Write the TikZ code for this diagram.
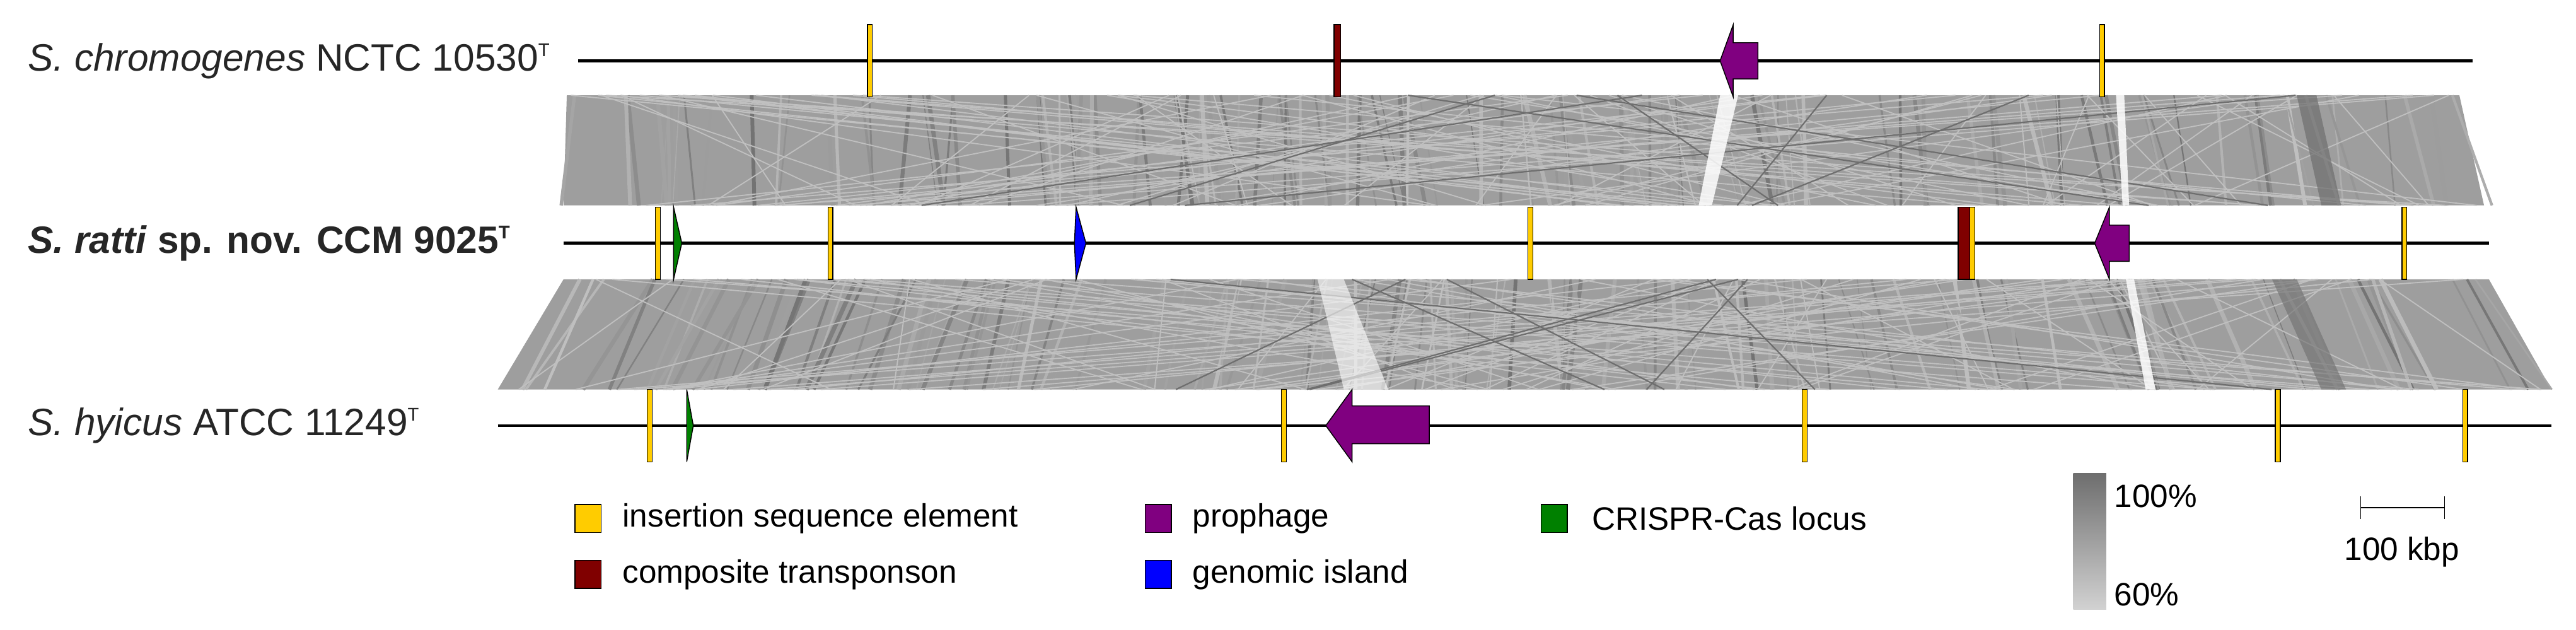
\documentclass[tikz,border=0pt]{standalone}
\usepackage{fontspec}
\setmainfont{Liberation Sans}
\definecolor{ISy}{RGB}{255,204,0}
\definecolor{CTr}{RGB}{128,0,0}
\definecolor{PRp}{RGB}{128,0,128}
\definecolor{GIb}{RGB}{0,0,255}
\definecolor{CRg}{RGB}{0,128,0}
\definecolor{bandgray}{RGB}{158,158,158}
\definecolor{darkg}{RGB}{110,110,110}
\definecolor{lightg}{RGB}{192,192,192}
\definecolor{gradtop}{RGB}{110,110,110}
\definecolor{gradbot}{RGB}{210,210,210}
\begin{document}
\begin{tikzpicture}[x=0.25mm,y=-0.25mm,
  genome/.style={line width=1.3pt,black},
  feat/.style={draw=black,line width=0.4pt},
  lab/.style={anchor=west,font=\fontsize{16.5}{18}\selectfont,text=black!85},
  leg/.style={anchor=west,font=\fontsize{14}{16}\selectfont,text=black},
  randline/.style={line width=0.5pt}]
\useasboundingbox (0,0) rectangle (1568,383);
% ---- bands
\fill[bandgray] (345,58) -- (1497,58) -- (1512,125) -- (343,125) -- cycle;
\fill[bandgray] (343,170) -- (1515,170) -- (1553,237) -- (303,237) -- cycle;
\pgfmathsetseed{7}
\foreach \i in {1,...,140}{
  \pgfmathsetmacro\a{345+rnd*1150}
  \pgfmathsetmacro\b{343+(\a-345)/1152*1169+(rnd-0.5)*20}
  \pgfmathsetmacro\g{25+rnd*30}
  \pgfmathsetmacro\w{0.4+rnd*1.5}
  \draw[color=black!\g,line width=\w pt] (\a,58) -- (\b,125);
  \pgfmathsetmacro\c{345+rnd*1170}
  \pgfmathsetmacro\d{303+(\c-343)/1172*1250+(rnd-0.5)*20}
  \pgfmathsetmacro\h{25+rnd*30}
  \pgfmathsetmacro\v{0.4+rnd*1.5}
  \draw[color=black!\h,line width=\v pt] (\c,170) -- (\d,237);
}
\foreach \i in {1,...,90}{
  \pgfmathsetmacro\a{345+rnd*1150}
  \pgfmathsetmacro\b{343+rnd*1165}
  \draw[randline,lightg] (\a,58) -- (\b,125);
  \pgfmathsetmacro\c{345+rnd*1165}
  \pgfmathsetmacro\d{305+rnd*1245}
  \draw[randline,lightg] (\c,170) -- (\d,237);
}
\foreach \i in {1,...,8}{
  \pgfmathsetmacro\a{700+rnd*700}
  \pgfmathsetmacro\b{500+rnd*900}
  \draw[line width=0.6pt,darkg] (\a,58) -- (\b,125);
  \pgfmathsetmacro\c{600+rnd*800}
  \pgfmathsetmacro\d{500+rnd*900}
  \draw[line width=0.6pt,darkg] (\c,170) -- (\d,237);
}
% white gaps
\fill[white,opacity=0.85] (1047,58) -- (1058,58) -- (1042,125) -- (1034,125) -- cycle;
\fill[white,opacity=0.85] (1288,58) -- (1293,58) -- (1296,125) -- (1292,125) -- cycle;
\fill[white,opacity=0.6] (802,170) -- (818,170) -- (845,237) -- (818,237) -- cycle;
\fill[white,opacity=0.85] (1294,170) -- (1299,170) -- (1312,237) -- (1306,237) -- cycle;
\fill[darkg,opacity=0.7] (1398,58) -- (1410,58) -- (1425,125) -- (1413,125) -- cycle;
\fill[darkg,opacity=0.6] (1383,170) -- (1398,170) -- (1428,237) -- (1413,237) -- cycle;
% ---- row 1
\node[lab] (l1) at (12,37) {\textit{S. chromogenes} NCTC 10530\textsuperscript{\fontsize{8}{9}\selectfont T}};
\draw[genome] (352,37) -- (1505,37);
\draw[feat,fill=ISy] (528,15) rectangle (531,59);
\draw[feat,fill=CTr] (812,15) rectangle (816,59);
\draw[feat,fill=PRp] (1047,37) -- (1055,15) -- (1055,26) -- (1070,26) -- (1070,48) -- (1055,48) -- (1055,59) -- cycle;
\draw[feat,fill=ISy] (1278,15) rectangle (1281,59);
% ---- row 2
\node[lab] (l2) at (12,148) {\textbf{\textit{S. ratti} sp. nov. CCM 9025\textsuperscript{\fontsize{8}{9}\selectfont T}}};
\draw[genome] (343,148) -- (1515,148);
\draw[feat,fill=ISy] (399,126) rectangle (402,170);
\draw[feat,fill=CRg] (410,126) -- (415,148) -- (410,170) -- cycle;
\draw[feat,fill=ISy] (504,126) rectangle (507,170);
\draw[feat,fill=GIb] (655,126) -- (661,148) -- (655,170) -- (654,148) -- cycle;
\draw[feat,fill=ISy] (930,126) rectangle (933,170);
\draw[feat,fill=CTr] (1192,126) rectangle (1199,170);
\draw[feat,fill=ISy] (1199,126) rectangle (1202,170);
\draw[feat,fill=PRp] (1275,148) -- (1284,126) -- (1284,137) -- (1296,137) -- (1296,159) -- (1284,159) -- (1284,170) -- cycle;
\draw[feat,fill=ISy] (1462,126) rectangle (1465,170);
% ---- row 3
\node[lab] (l3) at (12,259) {\textit{S. hyicus} ATCC 11249\textsuperscript{\fontsize{8}{9}\selectfont T}};
\draw[genome] (303,259) -- (1553,259);
\draw[feat,fill=ISy] (394,237) rectangle (397,281);
\draw[feat,fill=CRg] (418,237) -- (422,259) -- (418,281) -- cycle;
\draw[feat,fill=ISy] (780,237) rectangle (783,281);
\draw[feat,fill=PRp] (807,259) -- (823,237) -- (823,247) -- (870,247) -- (870,270) -- (823,270) -- (823,281) -- cycle;
\draw[feat,fill=ISy] (1097,237) rectangle (1100,281);
\draw[feat,fill=ISy] (1385,237) rectangle (1388,281);
\draw[feat,fill=ISy] (1499,237) rectangle (1502,281);
% ---- legend
\draw[feat,fill=ISy] (350,307) rectangle (366,324);
\node[leg] (t1) at (374,315.5) {insertion sequence element};
\draw[feat,fill=CTr] (350,341) rectangle (366,358);
\node[leg] (t2) at (374,349.5) {composite transponson};
\draw[feat,fill=PRp] (697,307) rectangle (713,324);
\node[leg] (t3) at (721,315.5) {prophage};
\draw[feat,fill=GIb] (697,341) rectangle (713,358);
\node[leg] (t4) at (721,349.5) {genomic island};
\draw[feat,fill=CRg] (938,307) rectangle (954,324);
\node[leg] (t5) at (964,315.5) {CRISPR-Cas locus};
\shade[top color=gradtop,bottom color=gradbot] (1262,288) rectangle (1282,371);
\node[leg] (p1) at (1282,302) {100\%};
\node[leg] (p2) at (1282,362) {60\%};
\coordinate (s1) at (1437,309);
\coordinate (s2) at (1488,309);
\draw[line width=0.6pt] (s1) -- (s2);
\draw[line width=0.4pt] (1437,302) -- (1437,316) (1488,302) -- (1488,316);
\node[font=\fontsize{14}{16}\selectfont] (kb) at (1462,336) {100 kbp};
\end{tikzpicture}
\end{document}
